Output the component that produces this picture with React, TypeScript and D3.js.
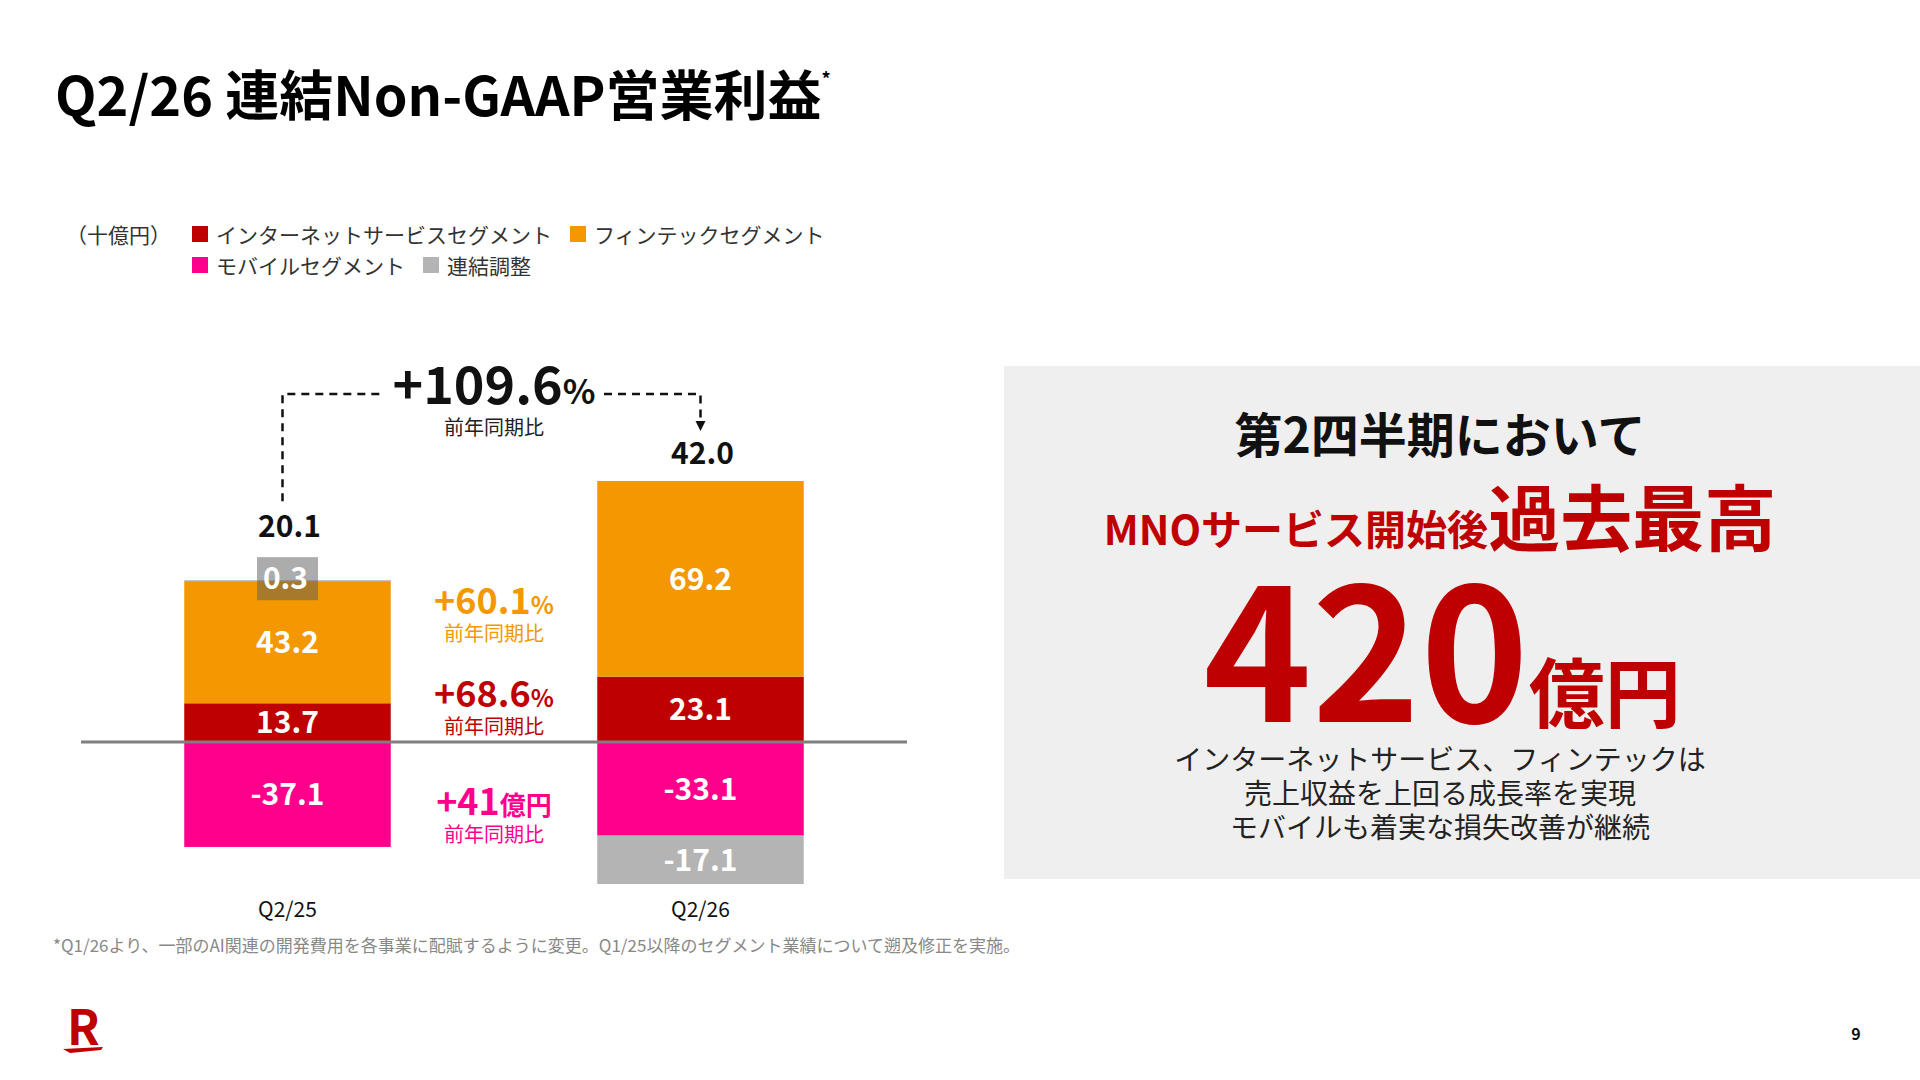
import * as d3 from "d3";

const categories = ["Q2/25", "Q2/26"];
const seriesKeys = ["internet", "fintech", "mobile", "adjust"];
const seriesNames = [
  "インターネットサービスセグメント",
  "フィンテックセグメント",
  "モバイルセグメント",
  "連結調整",
];
const internetValues = [13.7, 23.1];
const fintechValues = [43.2, 69.2];
const mobileValues = [-37.1, -33.1];
const adjustValues = [0.3, -17.1];
const totalValues = [20.1, 42.0];

const totalGrowth = "+109.6";
const segmentGrowth = ["+60.1", "+68.6", "+41"];
const segmentGrowthUnit = ["%", "%", "億円"];
const yoyLabel = "前年同期比";

const summaryLines = [
  "インターネットサービス、フィンテックは",
  "売上収益を上回る成長率を実現",
  "モバイルも着実な損失改善が継続",
];

const colors = ["#bf0000", "#f39800", "#ff008c", "#b4b4b4"];
const FONT = "'Noto Sans CJK JP', 'Noto Sans', sans-serif";

export default function App() {
  const rows = categories.map((c, i) => ({
    cat: c,
    internet: internetValues[i],
    fintech: fintechValues[i],
    mobile: mobileValues[i],
    adjust: adjustValues[i],
  }));

  const stacked = d3
    .stack<any>()
    .keys(seriesKeys)
    .offset(d3.stackOffsetDiverging)(rows);

  const x = d3
    .scaleBand()
    .domain(categories)
    .range([81, 907])
    .paddingInner(0.5)
    .paddingOuter(0.25);

  const y = d3.scaleLinear().domain([-60, 100]).range([911.7, 459.2]);

  const fmt = (v: number) => v.toFixed(1);

  // top of positive stack per category
  const posTop = categories.map((_, i) =>
    d3.max(stacked, (s) => Math.max(s[i][0], s[i][1])) as number
  );

  // small segments get a label box instead of an inline label
  const boxW = 61;
  const boxH = 43;

  const labelY = categories.map((_, i) => {
    const adj = stacked[3][i];
    const small = Math.abs(adj[1] - adj[0]) < 3 && adjustValues[i] > 0;
    const top = small ? y((adj[0] + adj[1]) / 2) - 2 - boxH / 2 : y(posTop[i]);
    return top - (small ? 20 : 17);
  });

  const cx = categories.map((c) => (x(c) as number) + x.bandwidth() / 2);
  const midX = (cx[0] + cx[1]) / 2;
  const lineY = 394;

  // legend layout
  const legendFont = 21;
  const legendRows = [
    [0, 1],
    [2, 3],
  ];

  return (
    <svg
      width={1920}
      height={1080}
      style={{ position: "fixed", left: 0, top: 0, background: "#fff" }}
      fontFamily={FONT}
    >
      <rect x={0} y={0} width={1920} height={1080} fill="#fff" />

      {/* Title */}
      <text x={55} y={116} fontSize={54} fontWeight={700} fill="#000">
        Q2/26 連結Non-GAAP営業利益
        <tspan fontSize={18} dy={-30}>
          *
        </tspan>
      </text>

      {/* Legend */}
      <text x={66} y={243} fontSize={legendFont} fill="#333">
        （十億円）
      </text>
      {legendRows.map((row, ri) => {
        let cursor = 192;
        return row.map((si) => {
          const sx = cursor;
          cursor = sx + 24 + seriesNames[si].length * legendFont + 18;
          const ty = 243 + ri * 31;
          return (
            <g key={si}>
              <rect x={sx} y={ty - 17} width={16} height={16} fill={colors[si]} />
              <text x={sx + 24} y={ty} fontSize={legendFont} fill="#333">
                {seriesNames[si]}
              </text>
            </g>
          );
        });
      })}

      {/* Bars */}
      {stacked.map((s, si) =>
        s.map((d, i) => {
          const y0 = y(Math.max(d[0], d[1]));
          const y1 = y(Math.min(d[0], d[1]));
          return (
            <rect
              key={`${si}-${i}`}
              x={x(categories[i])}
              y={y0}
              width={x.bandwidth()}
              height={Math.max(0, y1 - y0)}
              fill={colors[si]}
            />
          );
        })
      )}

      {/* Segment labels */}
      {stacked.map((s, si) =>
        s.map((d, i) => {
          const v = rows[i][seriesKeys[si] as keyof (typeof rows)[0]] as number;
          const h = Math.abs(y(d[0]) - y(d[1]));
          const my = y((d[0] + d[1]) / 2);
          if (h < 12) {
            return (
              <g key={`l-${si}-${i}`}>
                <rect
                  x={cx[i] - boxW / 2}
                  y={my - 2 - boxH / 2}
                  width={boxW}
                  height={boxH}
                  fill="#5a5a5a"
                  opacity={0.5}
                />
                <text
                  x={cx[i] - 2}
                  y={my - 2}
                  dy="0.36em"
                  textAnchor="middle"
                  fontSize={30}
                  fontWeight={700}
                  fill="#fff"
                >
                  {fmt(v)}
                </text>
              </g>
            );
          }
          return (
            <text
              key={`l-${si}-${i}`}
              x={cx[i]}
              y={my}
              dy="0.36em"
              textAnchor="middle"
              fontSize={30}
              fontWeight={700}
              fill="#fff"
            >
              {fmt(v)}
            </text>
          );
        })
      )}

      {/* Zero line */}
      <line x1={81} x2={907} y1={y(0)} y2={y(0)} stroke="#7f7f7f" strokeWidth={3} />

      {/* Totals */}
      {totalValues.map((t, i) => (
        <text
          key={i}
          x={cx[i] + 2}
          y={labelY[i]}
          textAnchor="middle"
          fontSize={30}
          fontWeight={700}
          fill="#111"
        >
          {fmt(t)}
        </text>
      ))}

      {/* Total growth connector */}
      <path
        d={`M${cx[0] - 5},${labelY[0] - 36} V${lineY} H${midX - 113}`}
        fill="none"
        stroke="#111"
        strokeWidth={2.5}
        strokeDasharray="8,6"
      />
      <path
        d={`M${midX + 110},${lineY} H${cx[1]} V${labelY[1] - 41}`}
        fill="none"
        stroke="#111"
        strokeWidth={2.5}
        strokeDasharray="8,6"
      />
      <path
        d={`M${cx[1] - 5},${labelY[1] - 43} L${cx[1] + 5},${labelY[1] - 43} L${cx[1]},${labelY[1] - 33} Z`}
        fill="#111"
      />
      <text x={midX} y={404} textAnchor="middle" fontSize={52} fontWeight={700} fill="#111">
        {totalGrowth}
        <tspan fontSize={34}>%</tspan>
      </text>
      <text x={midX} y={435} textAnchor="middle" fontSize={20} fill="#222">
        {yoyLabel}
      </text>

      {/* Segment growth */}
      {segmentGrowth.map((g, i) => {
        const baselines = [614, 707, 815];
        const col = [colors[1], colors[0], colors[2]][i];
        return (
          <g key={i}>
            <text
              x={midX}
              y={baselines[i]}
              textAnchor="middle"
              fontSize={36}
              fontWeight={700}
              fill={col}
            >
              {g}
              <tspan fontSize={i === 2 ? 26 : 24}>{segmentGrowthUnit[i]}</tspan>
            </text>
            <text x={midX} y={baselines[i] + 27} textAnchor="middle" fontSize={20} fill={col}>
              {yoyLabel}
            </text>
          </g>
        );
      })}

      {/* Category labels */}
      {categories.map((c, i) => (
        <text key={c} x={cx[i]} y={917} textAnchor="middle" fontSize={21} fill="#111">
          {c}
        </text>
      ))}

      {/* Footnote */}
      <text x={53} y={952} fontSize={17} fill="#888">
        *Q1/26より、一部のAI関連の開発費用を各事業に配賦するように変更。Q1/25以降のセグメント業績について遡及修正を実施。
      </text>

      {/* Right panel */}
      <rect x={1004} y={366} width={916} height={513} fill="#efefef" />
      <text x={1440} y={453} textAnchor="middle" fontSize={48} fontWeight={700} fill="#111">
        第2四半期において
      </text>
      <text x={1440} y={545} textAnchor="middle" fontWeight={700} fill="#bf0000">
        <tspan fontSize={41}>MNOサービス開始後</tspan>
        <tspan fontSize={72}>過去最高</tspan>
      </text>
      <text x={1442} y={722} textAnchor="middle" fontWeight={700} fill="#bf0000">
        <tspan fontSize={184}>420</tspan>
        <tspan fontSize={76}>億円</tspan>
      </text>
      {summaryLines.map((l, i) => (
        <text key={i} x={1440} y={770 + i * 34} textAnchor="middle" fontSize={28} fill="#222">
          {l}
        </text>
      ))}

      {/* Logo and page */}
      <text x={67} y={1045} fontSize={48} fontWeight={700} fill="#bf0000">
        R
      </text>
      <path d="M63,1049 L103,1047 L101,1050 L70,1053 Z" fill="#bf0000" />
      <text x={1856} y={1040} textAnchor="middle" fontSize={16} fontWeight={700} fill="#111">
        9
      </text>
    </svg>
  );
}
